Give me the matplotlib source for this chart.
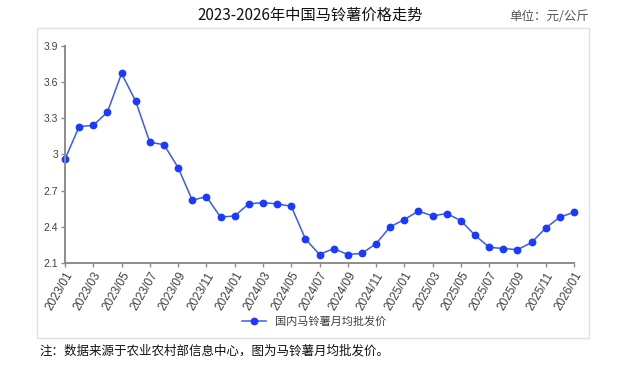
import matplotlib
matplotlib.use('Agg')
import matplotlib.pyplot as plt
from matplotlib.patches import Rectangle

plt.rcParams['font.family'] = ['Noto Sans CJK SC', 'DejaVu Sans']

# 月份标签 2023/01 - 2026/01
months = ['%d/%02d' % (2023 + i // 12, i % 12 + 1) for i in range(37)]
prices = [2.96, 3.23, 3.24, 3.35, 3.67, 3.44, 3.10, 3.08, 2.89, 2.62,
          2.65, 2.48, 2.49, 2.59, 2.60, 2.59, 2.57, 2.30, 2.17, 2.22,
          2.17, 2.18, 2.26, 2.40, 2.46, 2.53, 2.49, 2.51, 2.45, 2.33,
          2.23, 2.22, 2.21, 2.27, 2.39, 2.48, 2.52]
yticks = [2.1, 2.4, 2.7, 3.0, 3.3, 3.6, 3.9]
ylabels = ['2.1', '2.4', '2.7', '3', '3.3', '3.6', '3.9']

W, H = 628, 367
fig = plt.figure(figsize=(W / 100, H / 100), dpi=100)

# 外框
fig.patches.append(Rectangle((37 / W, 1 - 338 / H), (589 - 37) / W, (338 - 28) / H,
                             transform=fig.transFigure, fill=False,
                             edgecolor='#e0e0e0', linewidth=1.0))

ax = fig.add_axes([65 / W, 1 - 263 / H, (574 - 65) / W, (263 - 45.7) / H])
x = list(range(len(months)))
ax.plot(x, prices, color='#3a58ff', linewidth=1.1, marker='o', markersize=4.6,
        markerfacecolor='#1a3bff', markeredgecolor='#1a3bff',
        label='国内马铃薯月均批发价', clip_on=False)

ax.set_xlim(0, 36)
ax.set_ylim(2.1, 3.9)
ax.set_yticks(yticks)
ax.set_yticklabels(ylabels, fontsize=7.5, color='#404040', family=['Liberation Sans'])
ax.set_xticks(x[::2])
ax.set_xticklabels(months[::2], rotation=60, ha='right', rotation_mode='anchor',
                   fontsize=8.5, color='#404040', family=['Liberation Sans'])
for s in ['top', 'right']:
    ax.spines[s].set_visible(False)
for s in ['left', 'bottom']:
    ax.spines[s].set_color('#8c8c8c')
    ax.spines[s].set_linewidth(1.4)
ax.tick_params(axis='both', direction='out', length=3, width=1, color='#8c8c8c', pad=2)

fig.legend(loc='center', bbox_to_anchor=(0.5, 1 - 322 / H), frameon=False,
           fontsize=8, handlelength=2.2, labelcolor='#404040')

fig.text(310 / W, 1 - 15 / H, '2023-2026年中国马铃薯价格走势', ha='center', va='center',
         fontsize=11, color='#111111')
fig.text(589 / W, 1 - 17 / H, '单位：元/公斤', ha='right', va='center',
         fontsize=9, color='#555555')
fig.text(39 / W, 1 - 351 / H, '注：数据来源于农业农村部信息中心，图为马铃薯月均批发价。',
         ha='left', va='center', fontsize=9, color='#111111')

fig.savefig('out.png', dpi=100)
